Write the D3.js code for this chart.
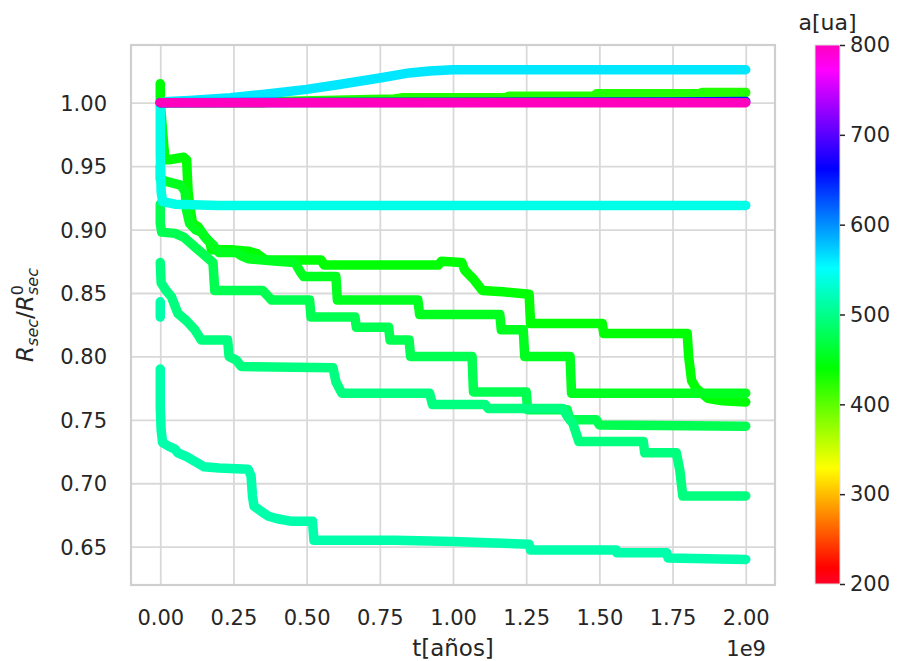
<!DOCTYPE html>
<html>
<head>
<meta charset="utf-8">
<script src="https://cdn.jsdelivr.net/npm/d3@7"></script>
<style>
  html, body { margin: 0; padding: 0; background: #ffffff; }
  svg { display: block; font-family: "DejaVu Sans", sans-serif; }
</style>
</head>
<body>
<svg id="chart" width="910" height="661"></svg>
<script>
// ---------- DATA (t in units of 1e9 years, value = R_sec / R0_sec) ----------
const xTickValues = [0.00, 0.25, 0.50, 0.75, 1.00, 1.25, 1.50, 1.75, 2.00];
const yTickValues = [0.65, 0.70, 0.75, 0.80, 0.85, 0.90, 0.95, 1.00];
const colorbarTicks = [200, 300, 400, 500, 600, 700, 800];

// semi-major axis a[ua] of each run (colour)
const seriesA = [425, 442, 453, 475, 495, 515, 541, 562, 650, 800];

const runNear1 = [[0,1.0],[0.35,1.0],[0.4,1.001],[0.6,1.002],[0.8,1.003],[0.83,1.004],[1.18,1.004],[1.19,1.005],[1.48,1.005],[1.49,1.007],[1.84,1.007],[1.85,1.008],[2.0,1.008]];
const runG1 = [[0,1.015],[0,1.0],[0.016,0.955],[0.03,0.955],[0.08,0.957],[0.09,0.955],[0.095,0.93],[0.1,0.92],[0.11,0.905],[0.13,0.902],[0.15,0.895],[0.17,0.89],[0.175,0.884],[0.25,0.884],[0.3,0.883],[0.33,0.881],[0.36,0.876],[0.55,0.876],[0.56,0.872],[0.95,0.872],[0.96,0.875],[1.03,0.874],[1.04,0.868],[1.07,0.861],[1.09,0.855],[1.1,0.852],[1.17,0.851],[1.26,0.849],[1.265,0.826],[1.51,0.826],[1.515,0.818],[1.80,0.818],[1.805,0.80],[1.815,0.781],[1.83,0.775],[1.87,0.767],[1.92,0.765],[2.0,0.764]];
const runG2 = [[0,0.95],[0,0.94],[0.02,0.938],[0.07,0.935],[0.085,0.93],[0.09,0.915],[0.1,0.905],[0.12,0.9],[0.14,0.898],[0.16,0.892],[0.18,0.888],[0.2,0.882],[0.26,0.882],[0.28,0.879],[0.3,0.877],[0.4,0.875],[0.46,0.874],[0.47,0.87],[0.48,0.866],[0.49,0.863],[0.6,0.863],[0.605,0.8445],[0.88,0.8445],[0.886,0.833],[1.16,0.833],[1.165,0.821],[1.24,0.821],[1.245,0.80],[1.40,0.80],[1.405,0.771],[2.0,0.771]];
const runG3 = [[0,0.92],[0,0.905],[0.005,0.898],[0.05,0.897],[0.08,0.894],[0.1,0.89],[0.12,0.886],[0.14,0.882],[0.16,0.878],[0.18,0.874],[0.186,0.852],[0.35,0.852],[0.37,0.847],[0.38,0.8445],[0.51,0.8445],[0.515,0.831],[0.665,0.831],[0.67,0.823],[0.78,0.823],[0.785,0.813],[0.85,0.813],[0.855,0.80],[1.065,0.80],[1.07,0.772],[1.25,0.772],[1.255,0.758],[1.39,0.758],[1.40,0.750],[1.49,0.750],[1.50,0.746],[2.0,0.745]];
const runG4 = [[0,0.874],[0.003,0.858],[0.02,0.852],[0.038,0.847],[0.05,0.84],[0.06,0.834],[0.09,0.828],[0.118,0.821],[0.14,0.813],[0.23,0.813],[0.235,0.80],[0.26,0.797],[0.277,0.792],[0.59,0.791],[0.60,0.78],[0.62,0.771],[0.92,0.771],[0.93,0.762],[1.11,0.762],[1.12,0.759],[1.375,0.759],[1.39,0.753],[1.41,0.747],[1.43,0.733],[1.65,0.733],[1.655,0.724],[1.763,0.724],[1.775,0.71],[1.785,0.69],[2.0,0.69]];
const runG5 = [[0,0.843],[0,0.831],null,[0,0.79],[0,0.76],[0.003,0.742],[0.008,0.732],[0.03,0.729],[0.05,0.727],[0.06,0.724],[0.09,0.721],[0.15,0.713],[0.2,0.712],[0.3,0.711],[0.31,0.706],[0.315,0.69],[0.32,0.682],[0.35,0.677],[0.37,0.674],[0.4,0.672],[0.45,0.670],[0.52,0.670],[0.525,0.655],[0.8,0.655],[1.0,0.654],[1.26,0.652],[1.265,0.6474],[1.558,0.6474],[1.56,0.6453],[1.73,0.6453],[1.735,0.641],[2.0,0.640]];
const runCyan92 = [[0,1.0],[0,0.96],[0.003,0.93],[0.008,0.922],[0.05,0.92],[0.2,0.919],[2.0,0.919]];
const runRising = [[0,1.0],[0.03,1.001],[0.1,1.0018],[0.24,1.004],[0.35,1.0065],[0.5,1.0105],[0.6,1.014],[0.75,1.0195],[0.85,1.0235],[0.92,1.025],[1.0,1.026],[2.0,1.026]];
const runBlue = [[0,1.0],[1.75,1.0005],[2.0,1.001]];
const runMagenta = [[0,1.0],[2.0,1.0]];

const runs = [runNear1, runG1, runG2, runG3, runG4, runG5, runCyan92, runRising, runBlue, runMagenta];

// gist_rainbow colormap control points
const cmapPos = [0.000, 0.030, 0.215, 0.400, 0.586, 0.770, 0.954, 1.000];
const cmapCol = ["rgb(255,0,41)","rgb(255,0,0)","rgb(255,255,0)","rgb(0,255,0)","rgb(0,255,255)","rgb(0,0,255)","rgb(255,0,255)","rgb(255,0,191)"];

// ---------- LAYOUT ----------
const plot = {left: 131, right: 775, top: 45, bottom: 585};
const cbar = {left: 815, right: 840, top: 45, bottom: 584};
const textColor = "#262626";
const gridColor = "#d9d9d9";
const fontSize = 21;

const svg = d3.select("#chart");

const x = d3.scaleLinear().domain([-0.1, 2.1]).range([plot.left, plot.right]);
const y = d3.scaleLinear().domain([0.6198, 1.0455]).range([plot.bottom, plot.top]);
const aDomain = cmapPos.map(p => 200 + 600 * p);
const color = d3.scaleLinear().domain(aDomain).range(cmapCol).interpolate(d3.interpolateRgb);

// grid
const xAxis = d3.axisBottom(x).tickValues(xTickValues).tickSize(-(plot.bottom - plot.top)).tickPadding(0).tickFormat(d3.format(".2f"));
const gx = svg.append("g").attr("transform", `translate(0,${plot.bottom})`).call(xAxis);
gx.select(".domain").remove();
gx.selectAll(".tick line").attr("stroke", gridColor).attr("stroke-width", 1.8);
gx.selectAll(".tick text").attr("fill", textColor).attr("font-size", fontSize)
  .attr("y", 24).attr("dy", "0.76em").attr("font-family", "DejaVu Sans");

const yAxis = d3.axisLeft(y).tickValues(yTickValues).tickSize(-(plot.right - plot.left)).tickPadding(0).tickFormat(d3.format(".2f"));
const gy = svg.append("g").attr("transform", `translate(${plot.left},0)`).call(yAxis);
gy.select(".domain").remove();
gy.selectAll(".tick line").attr("stroke", gridColor).attr("stroke-width", 1.8);
gy.selectAll(".tick text").attr("fill", textColor).attr("font-size", fontSize)
  .attr("x", -24).attr("dy", "0.36em").attr("font-family", "DejaVu Sans");

// frame
svg.append("rect").attr("x", plot.left).attr("y", plot.top)
  .attr("width", plot.right - plot.left).attr("height", plot.bottom - plot.top)
  .attr("fill", "none").attr("stroke", "#cfcfcf").attr("stroke-width", 2.2);

// series
svg.append("clipPath").attr("id", "clip").append("rect")
  .attr("x", plot.left).attr("y", plot.top).attr("width", plot.right - plot.left).attr("height", plot.bottom - plot.top);
const line = d3.line().defined(d => d !== null).x(d => x(d[0])).y(d => y(d[1]));
const gSeries = svg.append("g").attr("clip-path", "url(#clip)");
runs.forEach((run, i) => {
  gSeries.append("path")
    .attr("d", line(run))
    .attr("fill", "none")
    .attr("stroke", color(seriesA[i]))
    .attr("stroke-width", 9.5)
    .attr("stroke-linecap", "round")
    .attr("stroke-linejoin", "round");
});

// axis labels
svg.append("text").attr("x", (plot.left + plot.right) / 2).attr("y", 656)
  .attr("text-anchor", "middle").attr("font-size", 23).attr("fill", textColor).text("t[años]");
svg.append("text").attr("x", 766).attr("y", 656)
  .attr("text-anchor", "end").attr("font-size", fontSize).attr("fill", textColor).text("1e9");

const yl = svg.append("text")
  .attr("transform", `translate(33,${(plot.top + plot.bottom) / 2}) rotate(-90)`)
  .attr("text-anchor", "middle").attr("font-size", 23).attr("fill", textColor);
yl.append("tspan").attr("font-style", "italic").text("R");
yl.append("tspan").attr("font-style", "italic").attr("font-size", 16).attr("dy", 5).text("sec");
yl.append("tspan").attr("dy", -5).text("/");
yl.append("tspan").attr("font-style", "italic").text("R");
yl.append("tspan").attr("font-size", 16).attr("dy", -10).text("0");
yl.append("tspan").attr("font-style", "italic").attr("font-size", 16).attr("dx", -10).attr("dy", 15).text("sec");

// colorbar
const defs = svg.append("defs");
const grad = defs.append("linearGradient").attr("id", "cgrad")
  .attr("x1", 0).attr("y1", 1).attr("x2", 0).attr("y2", 0);
cmapPos.forEach((p, i) => grad.append("stop").attr("offset", p).attr("stop-color", cmapCol[i]));
svg.append("rect").attr("x", cbar.left).attr("y", cbar.top)
  .attr("width", cbar.right - cbar.left).attr("height", cbar.bottom - cbar.top)
  .attr("fill", "url(#cgrad)").attr("stroke", "#e0e0e0").attr("stroke-width", 1);
const cy = d3.scaleLinear().domain([200, 800]).range([cbar.bottom, cbar.top]);
const cAxis = d3.axisRight(cy).tickValues(colorbarTicks).tickSize(5).tickPadding(5);
const gc = svg.append("g").attr("transform", `translate(${cbar.right},0)`).call(cAxis);
gc.select(".domain").remove();
gc.selectAll(".tick line").attr("stroke", textColor).attr("stroke-width", 1.5);
gc.selectAll(".tick text").attr("fill", textColor).attr("font-size", fontSize).attr("font-family", "DejaVu Sans");
svg.append("text").attr("x", (cbar.left + cbar.right) / 2).attr("y", 30)
  .attr("text-anchor", "middle").attr("font-size", 22).attr("fill", textColor).text("a[ua]");
</script>
</body>
</html>
